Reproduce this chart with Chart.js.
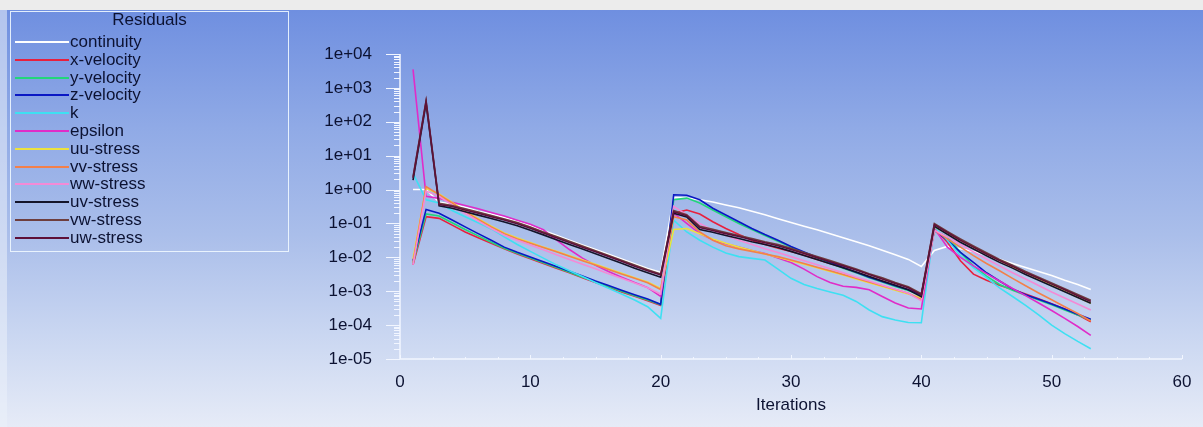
<!DOCTYPE html>
<html>
<head>
<meta charset="utf-8">
<script src="https://cdn.jsdelivr.net/npm/chart.js@4/dist/chart.umd.min.js"></script>
<style>
  html, body { margin: 0; padding: 0; }
  body {
    width: 1203px; height: 427px; overflow: hidden; position: relative;
    background: linear-gradient(to bottom, #ececec 0px, #ececec 10px, #6f8fe0 10px, #90aae6 30%, #aabeea 55%, #c9d6f1 78%, #e6ebf7 100%);
    font-family: "Liberation Sans", Arial, sans-serif;
  }
  #leftstrip { position: absolute; left: 0; top: 10px; width: 7px; height: 417px; background: rgba(235,240,250,0.55); }
  #wrap { position: absolute; left: 0; top: 0; width: 1203px; height: 427px; }
  #legend {
    position: absolute; left: 10px; top: 11px; width: 279px; height: 241px;
    border: 1px solid rgba(240,248,255,0.9); box-sizing: border-box;
    color: #0c1232; font-size: 17px;
  }
  #legend .title { position: absolute; left: 0; width: 100%; top: -1px; text-align: center; line-height: 17px; }
  #legend .row { position: absolute; left: 4px; height: 17px; line-height: 17px; white-space: nowrap; }
  #legend .sample { position: absolute; left: 0; top: 8px; width: 54px; height: 0; border-top: 2px solid; }
  #legend .lbl { position: absolute; left: 55px; top: 0; }
</style>
</head>
<body>
<div id="leftstrip"></div>
<div id="wrap"><canvas id="c" width="1203" height="427"></canvas></div>
<div id="legend"><div class="title">Residuals</div></div>
<script>
// ---------------- data ----------------
const iterations = [1,2,3,4,5,6,7,8,9,10,11,12,13,14,15,16,17,18,19,20,
  21,22,23,24,25,26,27,28,29,30,31,32,33,34,35,36,37,38,39,40,
  41,42,43,44,45,46,47,48,49,50,51,52,53];

const seriesNames = ['continuity','x-velocity','y-velocity','z-velocity','k','epsilon',
  'uu-stress','vv-stress','ww-stress','uv-stress','vw-stress','uw-stress'];

const continuity = [1.0,1.0,0.43,0.37,0.30,0.23,0.19,0.15,0.115,0.085,0.062,0.045,0.032,0.023,0.017,0.0123,0.0089,0.0065,0.0047,0.0036,
  0.58,0.56,0.50,0.43,0.35,0.29,0.23,0.18,0.138,0.107,0.083,0.065,0.050,0.038,0.029,0.022,0.0162,0.012,0.0087,0.0054,
  0.016,0.021,0.018,0.0148,0.0115,0.0087,0.0066,0.0050,0.0038,0.0029,0.0021,0.00158,0.00112];

const xVelocity = [0.006,0.158,0.141,0.089,0.056,0.038,0.026,0.0178,0.0126,0.0091,0.0066,0.0048,0.0035,0.0025,0.0018,0.00132,0.00095,0.00071,0.00052,0.00038,
  0.2,0.25,0.19,0.112,0.071,0.047,0.032,0.024,0.0186,0.0148,0.0115,0.0087,0.0066,0.0049,0.0036,0.0027,0.002,0.00148,0.0011,0.00079,
  0.071,0.028,0.0079,0.0032,0.0021,0.0015,0.00112,0.00083,0.0006,0.00043,0.0003,0.0002,0.000126];

const yVelocity = [0.007,0.19,0.166,0.105,0.066,0.043,0.028,0.0186,0.0132,0.0095,0.0069,0.005,0.0036,0.0026,0.0019,0.00138,0.001,0.00074,0.00055,0.0004,
  0.5,0.56,0.4,0.25,0.158,0.1,0.066,0.044,0.03,0.02,0.0138,0.0095,0.0068,0.0048,0.0035,0.0025,0.00186,0.00138,0.00105,0.00076,
  0.063,0.04,0.0141,0.0056,0.0028,0.00158,0.00107,0.00076,0.00055,0.0004,0.00028,0.0002,0.000141];

const zVelocity = [0.008,0.26,0.2,0.126,0.079,0.05,0.032,0.02,0.0141,0.0102,0.0074,0.0054,0.0039,0.0028,0.002,0.00148,0.00107,0.00079,0.00059,0.00041,
  0.7,0.68,0.5,0.28,0.178,0.112,0.071,0.047,0.032,0.021,0.0145,0.01,0.0071,0.005,0.0036,0.0026,0.00195,0.00145,0.0011,0.00079,
  0.063,0.032,0.014,0.0071,0.0035,0.002,0.00117,0.00079,0.00058,0.00042,0.0003,0.00021,0.000148];

const kRes = [3.0,0.5,0.4,0.24,0.158,0.105,0.069,0.04,0.024,0.015,0.0095,0.006,0.004,0.0027,0.0018,0.00123,0.00083,0.00055,0.00035,0.000158,
  0.126,0.056,0.032,0.02,0.0135,0.0105,0.0093,0.0083,0.0045,0.0024,0.00158,0.0012,0.00095,0.00076,0.0005,0.00028,0.000178,0.000141,0.00012,0.000117,
  0.079,0.032,0.0112,0.005,0.0025,0.00126,0.0007,0.00038,0.0002,0.0001,0.000056,0.000033,0.00002];

const epsilon = [3500,0.63,0.55,0.42,0.34,0.27,0.21,0.165,0.125,0.095,0.065,0.033,0.017,0.0095,0.0058,0.0038,0.0026,0.0018,0.00128,0.0007,
  0.2,0.1,0.05,0.033,0.025,0.02,0.016,0.013,0.0095,0.007,0.0045,0.0027,0.0018,0.0014,0.0013,0.0011,0.0007,0.00045,0.00032,0.0003,
  0.071,0.02,0.01,0.0056,0.0033,0.002,0.0012,0.00074,0.00045,0.00027,0.000158,0.000091,0.00005];

const uuStress = [0.009,1.1,0.74,0.42,0.23,0.138,0.083,0.052,0.037,0.0275,0.02,0.015,0.0112,0.0083,0.0062,0.0046,0.0034,0.0025,0.00186,0.0012,
  0.066,0.071,0.05,0.035,0.026,0.02,0.0158,0.0126,0.01,0.0079,0.0063,0.0049,0.0038,0.003,0.0023,0.00178,0.00138,0.00107,0.00083,0.00063,
  0.079,0.05,0.032,0.02,0.0126,0.0081,0.0052,0.0035,0.0023,0.0015,0.001,0.00066,0.00044];

const vvStress = [0.007,1.23,0.71,0.4,0.22,0.132,0.079,0.05,0.035,0.026,0.0195,0.0145,0.0107,0.0079,0.0059,0.0044,0.0032,0.0024,0.00178,0.00112,
  0.158,0.126,0.056,0.032,0.022,0.0178,0.015,0.0126,0.0105,0.0083,0.0066,0.0051,0.004,0.0031,0.0024,0.00186,0.00145,0.00112,0.00087,0.00056,
  0.063,0.035,0.02,0.0112,0.0066,0.004,0.0024,0.00145,0.00089,0.00056,0.00035,0.00022,0.000132];

const wwStress = [0.006,0.9,0.63,0.35,0.2,0.117,0.071,0.045,0.032,0.023,0.0166,0.012,0.0087,0.0063,0.0046,0.0033,0.0024,0.00174,0.00126,0.00083,
  0.32,0.178,0.1,0.063,0.045,0.032,0.024,0.018,0.0138,0.0105,0.0079,0.006,0.0046,0.0035,0.0026,0.002,0.0015,0.00115,0.00087,0.00052,
  0.063,0.04,0.024,0.0145,0.0089,0.0056,0.0035,0.0023,0.00148,0.00095,0.00063,0.00042,0.00028];

const uvStress = [1.9,350,0.33,0.28,0.22,0.176,0.139,0.111,0.086,0.063,0.046,0.033,0.024,0.0176,0.0128,0.0092,0.0067,0.0048,0.0035,0.0026,
  0.2,0.155,0.066,0.055,0.044,0.036,0.029,0.024,0.0194,0.015,0.0114,0.0086,0.0065,0.0049,0.0037,0.0027,0.002,0.0015,0.00111,0.00069,
  0.082,0.048,0.028,0.0176,0.0111,0.0071,0.0048,0.0031,0.0021,0.00143,0.00097,0.00065,0.00044];

const vwStress = [2.4,420,0.39,0.34,0.27,0.216,0.17,0.136,0.106,0.078,0.056,0.041,0.0297,0.0216,0.0157,0.0113,0.0082,0.0059,0.0043,0.0032,
  0.24,0.18,0.082,0.067,0.054,0.044,0.036,0.029,0.024,0.0184,0.0139,0.0106,0.008,0.006,0.0045,0.0033,0.0025,0.0018,0.00136,0.00084,
  0.1,0.058,0.035,0.0216,0.0136,0.0087,0.0058,0.0038,0.0026,0.00175,0.00119,0.0008,0.00054];

const uwStress = [2.2,400,0.36,0.316,0.251,0.2,0.158,0.126,0.098,0.072,0.052,0.038,0.0275,0.02,0.0145,0.0105,0.0076,0.0055,0.004,0.003,
  0.22,0.17,0.076,0.062,0.05,0.041,0.033,0.027,0.022,0.017,0.0129,0.0098,0.0074,0.0056,0.0042,0.0031,0.0023,0.0017,0.00126,0.00078,
  0.093,0.054,0.032,0.02,0.0126,0.0081,0.0054,0.0035,0.0024,0.00162,0.0011,0.00074,0.0005];

const yTickValues = [1e-5,1e-4,1e-3,1e-2,1e-1,1e0,1e1,1e2,1e3,1e4];
const yTickLabels = ['1e-05','1e-04','1e-03','1e-02','1e-01','1e+00','1e+01','1e+02','1e+03','1e+04'];
const xTickValues = [0,10,20,30,40,50,60];

// ---------------- styling ----------------
const seriesColors = ['#ffffff','#e8203e','#22d67a','#0a18c4','#3ee0f2','#e02cc8',
  '#ece23e','#f3804a','#f48ad6','#14142a','#6e3e3e','#5e1038'];
const seriesValues = [continuity,xVelocity,yVelocity,zVelocity,kRes,epsilon,
  uuStress,vvStress,wwStress,uvStress,vwStress,uwStress];

const textColor = '#0c1232';
const axisColor = '#f2f6ff';
const fontFamily = '"Liberation Sans", Arial, sans-serif';

// HTML legend built from the series arrays
const legendEl = document.getElementById('legend');
seriesNames.forEach((name, i) => {
  const row = document.createElement('div');
  row.className = 'row';
  row.style.top = (21 + i * 17.8) + 'px';
  const s = document.createElement('div');
  s.className = 'sample';
  s.style.borderTopColor = seriesColors[i];
  const l = document.createElement('div');
  l.className = 'lbl';
  l.textContent = name;
  row.appendChild(s); row.appendChild(l);
  legendEl.appendChild(row);
});

const datasets = seriesNames.map((name, i) => ({
  label: name,
  data: iterations.map((it, j) => ({ x: it, y: seriesValues[i][j] })),
  borderColor: seriesColors[i],
  backgroundColor: seriesColors[i],
  borderWidth: 1.6,
  pointRadius: 0,
  tension: 0,
  fill: false,
  order: seriesNames.length - 1 - i
}));

const axisPlugin = {
  id: 'fluentAxes',
  afterDraw(chart) {
    const ctx = chart.ctx;
    const xs = chart.scales.x, ys = chart.scales.y;
    const ca = chart.chartArea;
    ctx.save();
    ctx.strokeStyle = axisColor;
    ctx.lineWidth = 1.5;
    ctx.beginPath();
    ctx.moveTo(ca.left, ca.top); ctx.lineTo(ca.left, ca.bottom);
    ctx.moveTo(ca.left, ca.bottom); ctx.lineTo(ca.right, ca.bottom);
    ctx.stroke();
    ctx.lineWidth = 1;
    ctx.beginPath();
    for (let d = 0; d < yTickValues.length; d++) {
      const v = yTickValues[d];
      const py = Math.round(ys.getPixelForValue(v)) + 0.5;
      ctx.moveTo(ca.left - 14, py); ctx.lineTo(ca.left, py);
      if (d < yTickValues.length - 1) {
        for (let m = 2; m <= 9; m++) {
          const pm = Math.round(ys.getPixelForValue(v * m)) + 0.5;
          ctx.moveTo(ca.left - 6, pm); ctx.lineTo(ca.left, pm);
        }
      }
    }
    for (let t = 0; t < xTickValues.length; t++) {
      const px = Math.round(xs.getPixelForValue(xTickValues[t])) + 0.5;
      ctx.moveTo(px, ca.bottom); ctx.lineTo(px, ca.bottom - 4);
      if (t < xTickValues.length - 1) {
        for (let q = 1; q < 4; q++) {
          const pq = Math.round(xs.getPixelForValue(xTickValues[t] + q * 2.5)) + 0.5;
          ctx.moveTo(pq, ca.bottom); ctx.lineTo(pq, ca.bottom - 2);
        }
      }
    }
    ctx.stroke();
    ctx.restore();
  }
};

new Chart(document.getElementById('c'), {
  type: 'line',
  data: { datasets },
  options: {
    responsive: false,
    animation: false,
    layout: { padding: { left: 0, right: 21, top: 54, bottom: 0 } },
    plugins: { legend: { display: false }, tooltip: { enabled: false } },
    scales: {
      x: {
        type: 'linear', min: 0, max: 60,
        afterBuildTicks: (s) => { s.ticks = xTickValues.map(v => ({ value: v })); },
        afterFit: (s) => { s.height = 68; },
        grid: { display: false }, border: { display: false },
        ticks: { color: textColor, font: { family: fontFamily, size: 17 }, padding: 5, maxRotation: 0, autoSkip: false },
        title: { display: true, text: 'Iterations', color: textColor, font: { family: fontFamily, size: 17 }, padding: { top: 0, bottom: 11 } }
      },
      y: {
        type: 'logarithmic', min: 1e-5, max: 1e4,
        afterBuildTicks: (s) => { s.ticks = yTickValues.map(v => ({ value: v })); },
        afterFit: (s) => { s.width = 400; },
        grid: { display: false }, border: { display: false },
        ticks: {
          color: textColor, font: { family: fontFamily, size: 17 }, padding: 20, autoSkip: false,
          callback: (v, i) => yTickLabels[i]
        }
      }
    }
  },
  plugins: [axisPlugin]
});
</script>
</body>
</html>
